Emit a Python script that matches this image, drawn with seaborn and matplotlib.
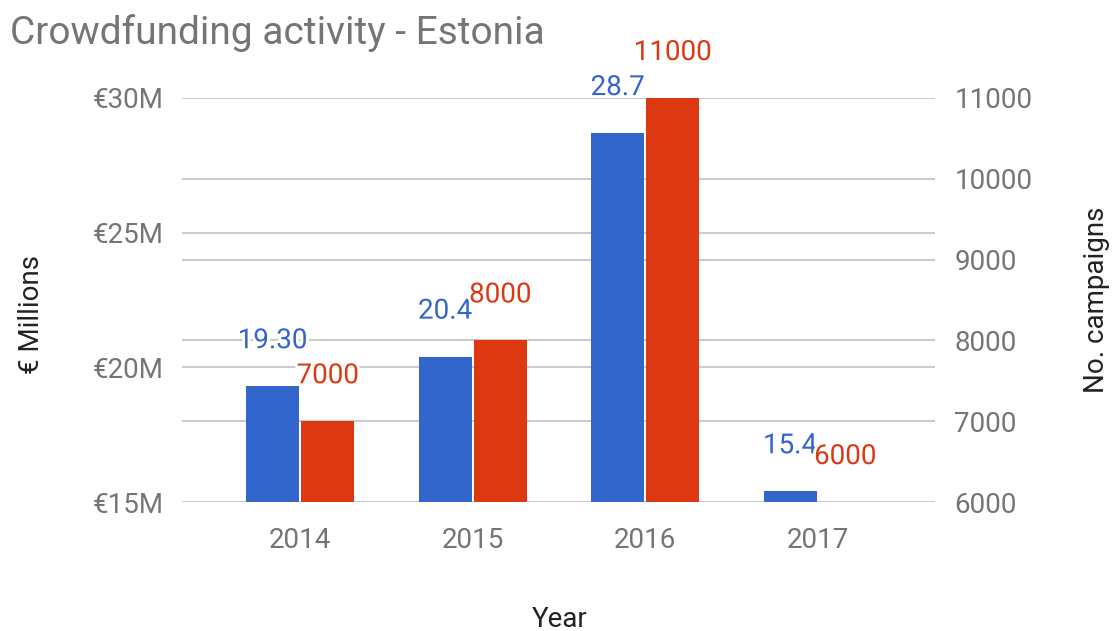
import numpy as np
import pandas as pd
import matplotlib
matplotlib.use("Agg")
import matplotlib.pyplot as plt
import matplotlib.patheffects as pe
import seaborn as sns

# ─── Data ─────────────────────────────────────────────────────────────────────
years = ["2014", "2015", "2016", "2017"]
funding = [19.3, 20.4, 28.7, 15.4]            # € millions (left axis)
campaigns = [7000, 8000, 11000, 6000]         # number of campaigns (right axis)
funding_labels = ["19.30", "20.4", "28.7", "15.4"]
campaign_labels = ["7000", "8000", "11000", "6000"]

left_ticks = [15, 20, 25, 30]
right_ticks = [6000, 7000, 8000, 9000, 10000, 11000]

BLUE = "#3366CC"
RED = "#DC3912"
GREY = "#757575"
DARK = "#222222"
FS = 20

sns.set_theme(style="white")
plt.rcParams["font.family"] = ["Roboto", "DejaVu Sans"]

df_fund = pd.DataFrame({"Year": years, "series": "funding", "value": funding})
df_camp = pd.DataFrame({"Year": years, "series": "campaigns", "value": campaigns})
hue_order = ["funding", "campaigns"]
palette = {"funding": BLUE, "campaigns": RED}

fig = plt.figure(figsize=(11.18, 6.31), dpi=100)
ax1 = fig.add_axes([0.1628, 0.2044, 0.6735, 0.6403])
ax2 = ax1.twinx()

common = dict(x="Year", y="value", hue="series", hue_order=hue_order,
              palette=palette, width=0.64, gap=0.04, dodge=True,
              legend=False, saturation=1, edgecolor="none")
sns.barplot(data=df_fund, ax=ax1, **common)
sns.barplot(data=df_camp, ax=ax2, **common)

lo1, hi1 = left_ticks[0], left_ticks[-1]
lo2, hi2 = right_ticks[0], right_ticks[-1]
ax1.set_ylim(lo1, hi1)
ax2.set_ylim(lo2, hi2)
ax1.set_xlim(-0.685, 3.68)

# gridlines for both axes drawn on ax1, behind all bars
ax1.set_yticks(left_ticks)
ax1.set_yticklabels([f"€{t}M" for t in left_ticks])
mapped = [lo1 + (t - lo2) / (hi2 - lo2) * (hi1 - lo1) for t in right_ticks]
ax1.set_yticks(mapped, minor=True)
ax1.set_axisbelow(True)
ax1.grid(axis="y", which="both", color="#cccccc", linewidth=1.5)
ax1.grid(axis="x", visible=False)
ax2.set_yticks(right_ticks)
ax2.set_yticklabels([str(t) for t in right_ticks])
ax2.grid(False)

for a in (ax1, ax2):
    for s in a.spines.values():
        s.set_visible(False)
    a.tick_params(length=0, which="both", labelsize=FS, colors=GREY)
ax1.tick_params(axis="y", pad=13)
ax2.tick_params(axis="y", pad=14)
ax1.tick_params(axis="x", pad=18)


def filled(a):
    for c in a.containers:
        if len(c) and all(p is not None for p in c):
            return c


halo = [pe.withStroke(linewidth=4, foreground="white")]
for labs, col, a in [(funding_labels, BLUE, ax1), (campaign_labels, RED, ax2)]:
    texts = a.bar_label(filled(a), labels=labs, padding=23, fontsize=FS, color=col)
    for t in texts:
        t.set_path_effects(halo)

ax1.set_xlabel("Year", fontsize=FS, color=DARK)
ax1.set_ylabel("€ Millions", fontsize=FS, color=DARK)
ax2.set_ylabel("No. campaigns", fontsize=FS, color=DARK)
ax1.xaxis.set_label_coords(0.502, -0.29)
ax1.yaxis.set_label_coords(-0.2005, 0.463)
ax2.yaxis.set_label_coords(1.215, 0.5)
ax1.xaxis.label.set_va("center")
ax1.yaxis.label.set_va("center")
ax2.yaxis.label.set_va("center")

fig.text(0.009, 0.948, "Crowdfunding activity - Estonia", fontsize=28,
         color=GREY, ha="left", va="center")

fig.savefig("out.png", dpi=100)
